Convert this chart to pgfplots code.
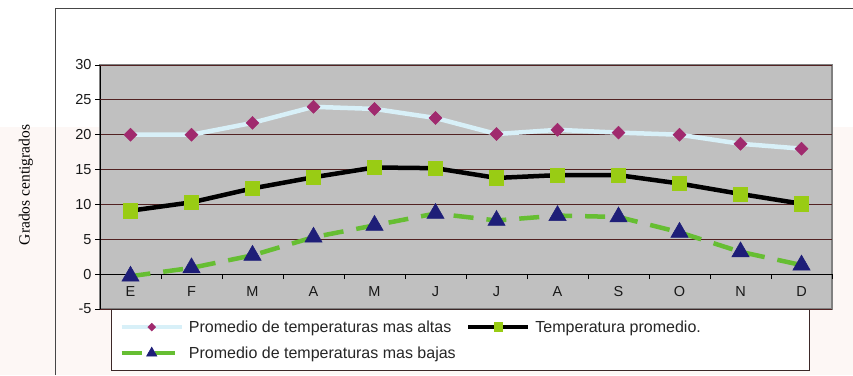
\documentclass[border=0pt]{standalone}
\usepackage{fontspec}
\setmainfont{Liberation Sans}
\newfontfamily\labelserif{Liberation Serif}
\usepackage{pgfplots}
\usepackage{pgfplotstable}
\pgfplotsset{compat=1.18}

\definecolor{plotgray}{RGB}{192,192,192}
\definecolor{bordergray}{RGB}{128,128,128}
\definecolor{gridmaroon}{RGB}{82,34,34}
\definecolor{griddark}{RGB}{64,64,64}
\definecolor{framegray}{RGB}{70,70,70}
\definecolor{pinktint}{RGB}{253,247,245}
\definecolor{altaline}{RGB}{216,240,248}
\definecolor{altamark}{RGB}{160,42,110}
\definecolor{promline}{RGB}{0,0,0}
\definecolor{prommark}{RGB}{153,204,20}
\definecolor{bajaline}{RGB}{102,190,50}
\definecolor{bajamark}{RGB}{30,30,120}
\definecolor{legendborder}{RGB}{60,40,40}

% monthly temperatures (degrees C): highest mean, mean, lowest mean
\pgfplotstableread{
mes alta prom baja
0  20.0  9.1  -0.3
1  20.0 10.3   0.9
2  21.7 12.3   2.7
3  24.0 13.9   5.3
4  23.7 15.3   7.0
5  22.4 15.2   8.7
6  20.1 13.8   7.7
7  20.7 14.2   8.4
8  20.3 14.2   8.2
9  20.0 13.0   6.0
10 18.7 11.5   3.2
11 18.0 10.1   1.3
}\temps

\begin{document}
\begin{tikzpicture}[x=1pt,y=1pt]
\useasboundingbox (0,0) rectangle (853,375);
\fill[pinktint] (0,0) rectangle (853,248);
\draw[framegray, line width=1pt] (55,0) -- (55,366) -- (853,366);
\node[rotate=90, font=\labelserif\fontsize{15.5}{18}\selectfont, text=black] at (26,190) {Grados centigrados};
\begin{axis}[
  at={(100pt,66pt)}, anchor=south west,
  width=732pt, height=244pt, scale only axis,
  xmin=-0.5, xmax=11.5, ymin=-5, ymax=30,
  axis x line=middle, axis y line=left,
  axis line style={-, black, line width=0.8pt},
  axis background/.style={fill=plotgray, draw=bordergray, line width=1.5pt},
  /pgf/number format/assume math mode=true,
  tick label style={font=\fontsize{14.5}{16}\selectfont, text=black!90},
  ytick={0,5,10,15,20}, extra y ticks={-5,25,30},
  extra y tick style={grid style={griddark, line width=0.9pt}},
  ymajorgrids, major grid style={gridmaroon, line width=0.9pt},
  xtick={0,...,11}, xticklabels={E,F,M,A,M,J,J,A,S,O,N,D},
  minor xtick={-0.5,0.5,...,11.5},
  major x tick style={draw=none},
  tick style={black, line width=0.8pt},
  major tick length=5pt, minor tick length=5pt,
  tick align=outside,
  xticklabel style={yshift=-4pt},
  clip=false,
  legend columns=2,
  legend cell align=left,
  legend image code/.code={%
    \draw[mark repeat=2, mark phase=2, #1, /tikz/every mark/.append style={scale=0.6}]
      plot coordinates {(0pt,0pt) (30pt,0pt) (60pt,0pt)};},
  legend style={at={(axis description cs:0.015,0)}, anchor=north west, yshift=0pt,
    draw=legendborder, line width=1pt, fill=white,
    font=\fontsize{16}{18}\selectfont, text=black!85,
    inner xsep=8pt, inner ysep=9pt, row sep=9pt, column sep=3pt},
]
\addplot[altaline, line width=4.5pt, mark=square*, mark size=4.6pt,
  mark options={rotate=45, fill=altamark, draw=altamark, line width=0.5pt, solid}]
  table[x=mes, y=alta] {\temps};
\addlegendentry{\makebox[272pt][l]{Promedio de temperaturas mas altas}}
\addplot[promline, line width=4.5pt, mark=square*, mark size=7.2pt,
  mark options={fill=prommark, draw=prommark, line width=0.5pt, solid}]
  table[x=mes, y=prom] {\temps};
\addlegendentry{\makebox[264pt][l]{Temperatura promedio.}}
\addplot[bajaline, line width=4.5pt, dash pattern=on 20pt off 13pt, mark=triangle*, mark size=10pt,
  mark options={fill=bajamark, draw=bajamark, line width=0.5pt, solid}]
  table[x=mes, y=baja] {\temps};
\addlegendentry{\makebox[272pt][l]{Promedio de temperaturas mas bajas}}
\end{axis}
\end{tikzpicture}
\end{document}
